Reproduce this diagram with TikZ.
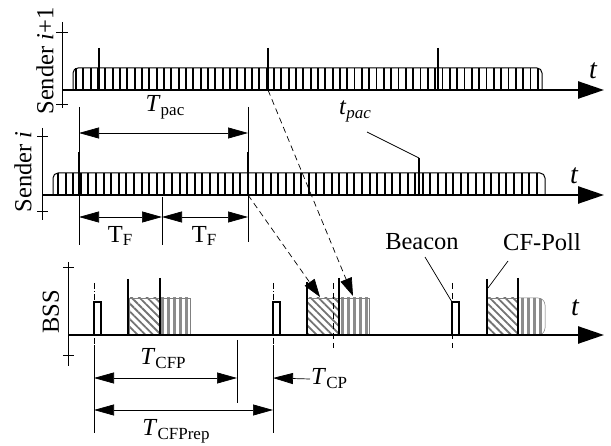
\documentclass[tikz,border=0pt]{standalone}
\usepackage{fontspec}
\setmainfont{Liberation Serif}
\usetikzlibrary{arrows.meta,patterns.meta}
\newcommand{\lowsub}[1]{\raisebox{-0.35ex}{\fontsize{17}{17}\selectfont #1}}
\tikzset{
  axis/.style={line width=2.5pt, -{Triangle[length=26pt,width=17pt]}},
  yaxis/.style={line width=0.8pt},
  pkt/.style={line width=2.2pt},
  stripe/.style={line width=1.9pt},
  barline/.style={line width=1pt, rounded corners=5pt},
  dimline/.style={line width=0.7pt, {Triangle[length=20pt,width=11pt]}-{Triangle[length=20pt,width=11pt]}},
  extline/.style={line width=0.6pt},
  leader/.style={line width=0.7pt},
  dasharrow/.style={line width=0.7pt, dash pattern=on 6pt off 4pt, -{Triangle[length=18pt,width=12pt]}},
  lbl/.style={font=\fontsize{24.5}{28}\selectfont, inner sep=1pt},
  tlbl/.style={font=\fontsize{28}{30}\selectfont\itshape, inner sep=0pt},
  box/.style={inner sep=0pt, outer sep=0pt, anchor=south west, minimum height=37pt},
  hatchbox/.style={box, draw=gray, line width=0.5pt, pattern={Lines[angle=-45,distance=5.5pt,line width=1.8pt]}, pattern color=black!55},
  stripebox/.style={box, draw=gray, line width=0.5pt, pattern={Lines[angle=90,distance=6pt,line width=3pt]}, pattern color=black!45},
  beaconbox/.style={box, draw, line width=2pt, fill=white, minimum width=7pt, minimum height=33pt},
}
\begin{document}
\begin{tikzpicture}[x=1pt,y=-1pt]
  \useasboundingbox (0,0) rectangle (611,446);

  % Sender i+1
  \draw[barline] (73,90) -- (73,68) -- (542,68) -- (542,90);
  \foreach \x in {76,83.33,...,540} \draw[stripe] (\x,68) -- (\x,90);
  \draw[axis] (62,90) -- (604,90);
  \draw[yaxis] (62,22) -- (62,108);
  \draw[yaxis] (56,32) -- (68,32) (56,104) -- (68,104);
  \coordinate (s1) at (99,90);
  \coordinate (s2) at (268,90);
  \coordinate (s3) at (438,90);
  \draw[pkt] (99,48) -- (s1) (268,48) -- (s2) (438,48) -- (s3);
  \node[lbl, rotate=90] (snd1) at (45,61) {Sender \textit{i}+1};
  \node[tlbl] (t1) at (593,71) {t};

  % Sender i
  \draw[barline] (53,195) -- (53,173) -- (545,173) -- (545,195);
  \foreach \x in {58,65.6,...,542} \draw[stripe] (\x,173) -- (\x,195);
  \draw[axis] (42,195) -- (604,195);
  \draw[yaxis] (42,128) -- (42,220);
  \draw[yaxis] (37,136) -- (48,136) (37,211) -- (48,211);
  \coordinate (r1) at (79,195);
  \coordinate (r2) at (248,195);
  \coordinate (r3) at (419,195);
  \coordinate (r3top) at (419,158);
  \draw[pkt] (79,152) -- (r1) (248,152) -- (r2) (r3top) -- (r3);
  \node[lbl, rotate=90] (snd0) at (23,172) {Sender \textit{i}};
  \node[tlbl] (t2) at (574,176) {t};

  % Tpac and TF
  \draw[extline] (79,107) -- (79,245);
  \draw[extline] (248,107) -- (248,242);
  \draw[extline] (162,197) -- (162,245);
  \draw[dimline] (79,133) -- (248,133);
  \draw[dimline] (79,217) -- (162,217);
  \draw[dimline] (162,217) -- (248,217);
  \node[lbl] (tpac) at (165,107) {\textit{T}\lowsub{pac}};
  \node[lbl] (tf1) at (120,236) {T\lowsub{F}};
  \node[lbl] (tf2) at (204,236) {T\lowsub{F}};
  \node[lbl] (tpacl) at (355,111) {\textit{t}\lowsub{\itshape pac}};
  \draw[leader] (367,132) -- (r3top);

  % BSS
  \node[beaconbox] (b1) at (94,335) {};
  \node[beaconbox] (b2) at (273,335) {};
  \node[beaconbox] (b3) at (452,335) {};
  \node[hatchbox, minimum width=31pt] (h1) at (129,335) {};
  \node[stripebox, minimum width=30pt] (v1) at (160,335) {};
  \node[hatchbox, minimum width=31pt] (h2) at (307,335) {};
  \node[stripebox, minimum width=30pt] (v2) at (339,335) {};
  \node[hatchbox, minimum width=31pt] (h3) at (487,335) {};
  \path[draw=gray, line width=0.5pt, pattern={Lines[angle=90,distance=6pt,line width=3pt]}, pattern color=black!45]
    (518,335) -- (518,298) [rounded corners=7pt] -- (545,298) -- (545,335) [sharp corners] -- cycle;
  \draw[axis] (69,335) -- (604,335);
  \draw[yaxis] (68,262) -- (68,366);
  \draw[yaxis] (63,267) -- (74,267) (63,355) -- (74,355);
  \coordinate (q1) at (307,282);
  \coordinate (q2) at (339,278);
  \coordinate (q3) at (487,279);
  \draw[pkt] (128,279) -- (128,335) (160,278) -- (160,335);
  \draw[pkt] (q1) -- (307,335) (q2) -- (339,335);
  \draw[pkt] (q3) -- (487,335) (518,278) -- (518,335);
  \node[lbl, rotate=90] (bss) at (51,312) {BSS};
  \node[tlbl] (t3) at (575,308) {t};

  % Beacon marks
  \draw[extline, dash pattern=on 6pt off 2pt on 1pt off 2pt] (94,283) -- (94,345);
  \draw[extline] (94,345) -- (94,433);
  \draw[extline, dash pattern=on 6pt off 2pt on 1pt off 2pt] (273,283) -- (273,345);
  \draw[extline] (273,345) -- (273,433);
  \draw[extline, dash pattern=on 6pt off 4pt] (333,283) -- (333,348);
  \draw[extline, dash pattern=on 6pt off 4pt] (452,283) -- (452,348);
  \draw[extline] (237,340) -- (237,403);

  % Periods
  \draw[dimline] (94,378) -- (237,378);
  \draw[dimline] (94,410) -- (273,410);
  \node[lbl] (tcfp) at (163,359) {\textit{T}\lowsub{CFP}};
  \node[lbl] (tcfprep) at (176,431) {\textit{T}\lowsub{CFPrep}};
  \node[lbl, anchor=west] (tcp) at (310,379) {\textit{T}\lowsub{CP}};
  \draw[line width=0.7pt, -{Triangle[length=20pt,width=11pt]}] (tcp.west) -- (273,378);

  % Labels
  \node[lbl] (beacon) at (422,242) {Beacon};
  \node[lbl] (cfpoll) at (542,242) {CF-Poll};
  \draw[leader] (425,257) -- (b3.north west);
  \draw[leader] (508,261) -- (488,288);

  % Edges
  \draw[dasharrow] (s2) -- (353,296);
  \draw[dasharrow] (r2) -- (320,297);
\end{tikzpicture}
\end{document}
